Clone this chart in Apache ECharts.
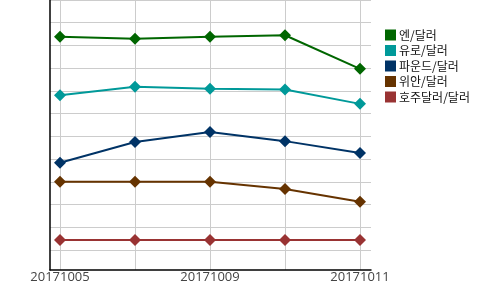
<!DOCTYPE html>
<html><head><meta charset="utf-8">
<script src="https://cdn.jsdelivr.net/npm/echarts@6/dist/echarts.min.js"></script>
<style>html,body{margin:0;padding:0;background:#fff}#c{width:500px;height:290px}</style>
</head><body><div id="c"></div>
<script>
const dates = ['20171005','20171006','20171009','20171010','20171011'];
const seriesNames = ['엔/달러','유로/달러','파운드/달러','위안/달러','호주달러/달러'];
const seriesColors = ['#006600','#009999','#003366','#663300','#993333'];
const yenUsd = [9.38, 9.29, 9.38, 9.45, 7.97];
const eurUsd = [6.81, 7.18, 7.09, 7.06, 6.43];
const gbpUsd = [3.84, 4.75, 5.19, 4.79, 4.27];
const cnyUsd = [3.00, 3.00, 3.00, 2.68, 2.12];
const audUsd = [0.44, 0.44, 0.44, 0.44, 0.44];
const allValues = [yenUsd, eurUsd, gbpUsd, cnyUsd, audUsd];

const chart = echarts.init(document.getElementById('c'), null, {renderer:'canvas'});
chart.setOption({
  animation:false,
  backgroundColor:'#fff',
  grid:{left:50, top:0, width:321, height:270, containLabel:false},
  legend:{
    orient:'vertical', left:380, top:24, itemWidth:11, itemHeight:11, itemGap:3.5,
    icon:'rect',
    textStyle:{fontFamily:'"Noto Sans CJK KR"', fontSize:12, color:'#111', padding:[0,0,0,-2]},
    data:seriesNames
  },
  xAxis:{
    type:'value', min:-10/75, max:4+11/75, splitNumber:4,
    axisLine:{show:true, onZero:false, lineStyle:{color:'#000', width:1.5}},
    axisTick:{show:false},
    splitLine:{show:true, showMinLine:false, showMaxLine:false, lineStyle:{color:'#cccccc', width:1}},
    axisLabel:{
      show:true, showMinLabel:false, showMaxLabel:false, margin:1,
      fontFamily:'"Open Sans"', fontSize:13, color:'#444',
      formatter:function(v){ const i=Math.round(v); return (Math.abs(v-i)<1e-6 && i%2===0 && dates[i]) ? dates[i] : ''; }
    }
  },
  yAxis:{
    type:'value', min:-0.88, max:11, splitNumber:12,
    axisLine:{show:true, onZero:false, lineStyle:{color:'#000', width:1.5}},
    axisTick:{show:false},
    axisLabel:{show:false},
    splitLine:{show:true, showMinLine:false, lineStyle:{color:'#cccccc', width:1}}
  },
  series: seriesNames.map((n,k)=>({
    name:n, type:'line',
    data: allValues[k].map((v,i)=>[i,v]),
    symbol:'diamond', symbolSize:12,
    lineStyle:{color:seriesColors[k], width:2},
    itemStyle:{color:seriesColors[k]},
    color:seriesColors[k]
  }))
});
</script></body></html>
